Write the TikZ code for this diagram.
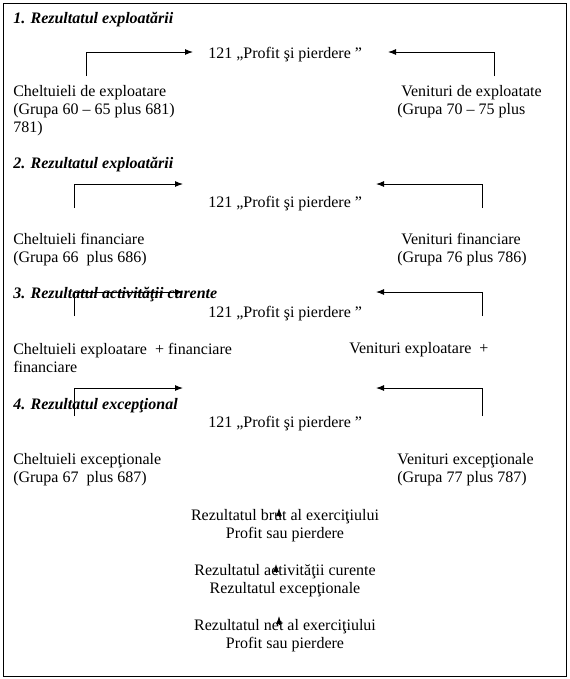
\documentclass[tikz,border=0pt]{standalone}
\usepackage{fontspec}
\setmainfont{Liberation Serif}
\usetikzlibrary{arrows.meta,positioning}
\definecolor{rzInk}{RGB}{0,0,0}
\newcommand{\rzfont}{\fontsize{12}{13.5}\selectfont}

\begin{document}
\begin{tikzpicture}[x=0.75pt,y=-0.75pt,
  txt/.style={inner sep=0pt,anchor=base west,align=left,font=\rzfont,text=rzInk},
  mid/.style={inner sep=0pt,anchor=base,align=center,font=\rzfont,text=rzInk},
  head/.style={txt,font=\rzfont\bfseries\itshape},
  flow/.style={draw=rzInk,line width=0.75pt,-{Latex[length=6pt,width=4.5pt]}}]
  \useasboundingbox (0,0) rectangle (570,679);
  \draw[draw=rzInk,line width=0.75pt] (3,3) rectangle (566,676);
  % 1. exploatare
  \node[head] (t1) at (13,23) {1. Rezultatul exploatării};
  \node[txt] (p1) at (208,58) {121 „Profit şi pierdere ”};
  \node[txt] (ch1) at (13,132) {Cheltuieli de exploatare\\(Grupa 60 – 65 plus 681)\\781)};
  \node[txt] (ve1) at (397,114) {\hspace*{3pt}Venituri de exploatate\\(Grupa 70 – 75 plus};
  % 2. financiar
  \node[head] (t2) at (13,168) {2. Rezultatul exploatării};
  \node[txt] (p2) at (208,207) {121 „Profit şi pierdere ”};
  \node[txt] (ch2) at (13,262) {Cheltuieli financiare\\(Grupa 66\ \ plus 686)};
  \node[txt] (ve2) at (397,262) {\hspace*{3pt}Venituri financiare\\(Grupa 76 plus 786)};
  % 3. curent
  \node[head] (t3) at (13,298) {3. Rezultatul activităţii curente};
  \node[txt] (p3) at (208,317) {121 „Profit şi pierdere ”};
  \node[txt] (ch3) at (13,372) {Cheltuieli exploatare\ \ + financiare\\financiare};
  \node[txt] (ve3) at (349,353) {Venituri exploatare\ \ +};
  % 4. exceptional
  \node[head] (t4) at (13,409) {4. Rezultatul excepţional};
  \node[txt] (p4) at (208,427) {121 „Profit şi pierdere ”};
  \node[txt] (ch4) at (13,482) {Cheltuieli excepţionale\\(Grupa 67\ \ plus 687)};
  \node[txt] (ve4) at (397,482) {Venituri excepţionale\\(Grupa 77 plus 787)};
  % rezultate
  \node[mid] (r1) at (285,538) {Rezultatul brut al exerciţiului\\Profit sau pierdere};
  \node[mid] (r2) at (285,593) {Rezultatul activităţii curente\\Rezultatul excepţionale};
  \node[mid] (r3) at (285,648) {Rezultatul net al exerciţiului\\Profit sau pierdere};
  % sageti
  \coordinate (l1a) at (86,76);  \coordinate (l1b) at (193,52);
  \coordinate (d1a) at (494,76); \coordinate (d1b) at (388,52);
  \coordinate (l2a) at (74,208); \coordinate (l2b) at (183,184);
  \coordinate (d2a) at (482,208);\coordinate (d2b) at (376,184);
  \coordinate (l3a) at (74,316); \coordinate (l3b) at (183,292);
  \coordinate (d3a) at (482,316);\coordinate (d3b) at (376,292);
  \coordinate (l4a) at (74,416); \coordinate (l4b) at (183,388);
  \coordinate (d4a) at (482,416);\coordinate (d4b) at (376,388);
  \draw[flow] (l1a) |- (l1b); \draw[flow] (d1a) |- (d1b);
  \draw[flow] (l2a) |- (l2b); \draw[flow] (d2a) |- (d2b);
  \draw[flow] (l3a) |- (l3b); \draw[flow] (d3a) |- (d3b);
  \draw[flow] (l4a) |- (l4b); \draw[flow] (d4a) |- (d4b);
  \coordinate (u1a) at (279,517); \coordinate (u1b) at (279,508);
  \coordinate (u2a) at (276,572); \coordinate (u2b) at (276,564);
  \coordinate (u3a) at (279,625); \coordinate (u3b) at (279,616);
  \draw[flow] (u1a) -- (u1b);
  \draw[flow] (u2a) -- (u2b);
  \draw[flow] (u3a) -- (u3b);
\end{tikzpicture}
\end{document}
